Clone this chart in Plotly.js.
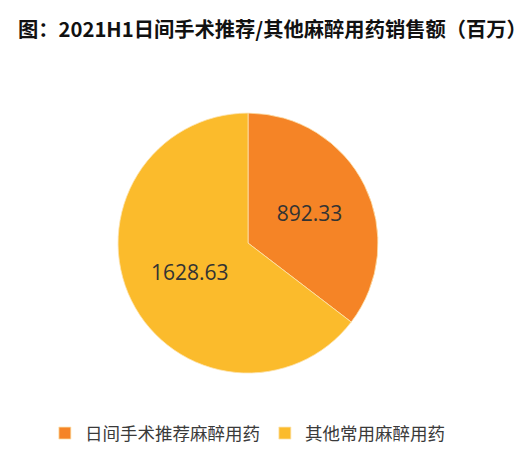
<!DOCTYPE html>
<html>
<head>
<meta charset="utf-8">
<script src="https://cdn.plot.ly/plotly-3.0.1.min.js"></script>
<style>
  html, body { margin: 0; padding: 0; background: #fff; }
  #chart { width: 528px; height: 456px; }
</style>
</head>
<body>
<div id="chart"></div>
<script>
// 2021H1 sales, millions
var labels = ['日间手术推荐麻醉用药', '其他常用麻醉用药'];
var values = [892.33, 1628.63];
var colors = ['#F58426', '#FBBB2C'];

var trace = {
    type: 'pie',
    labels: labels,
    values: values,
    sort: false,
    direction: 'clockwise',
    rotation: 0,
    marker: { colors: colors, line: { color: '#fde3b0', width: 0.8 } },
    texttemplate: '%{value:.2f}',
    textposition: 'inside',
    insidetextorientation: 'horizontal',
    textfont: { family: 'Open Sans, Noto Sans, sans-serif', size: 21, color: '#333333' },
    domain: { x: [0.2235, 0.716], y: [0.182, 0.752] },
    hoverinfo: 'label+value'
};

var layout = {
    width: 528,
    height: 456,
    margin: { l: 0, r: 0, t: 0, b: 0 },
    paper_bgcolor: '#ffffff',
    title: {
        text: '<b>图：2021H1日间手术推荐/其他麻醉用药销售额（百万）</b>',
        font: { family: 'Noto Sans CJK SC, sans-serif', size: 20.3, color: '#111111' },
        x: 0.034, xanchor: 'left',
        y: 0.934, yanchor: 'middle'
    },
    showlegend: true,
    legend: {
        orientation: 'h',
        x: 0.085, xanchor: 'left',
        y: 0.05, yanchor: 'middle',
        font: { family: 'Noto Sans CJK SC, sans-serif', size: 17.5, color: '#3a3a3a' },
        itemwidth: 30,
        tracegroupgap: 0
    }
};

Plotly.newPlot('chart', [trace], layout, { displayModeBar: false, staticPlot: true });
</script>
</body>
</html>
